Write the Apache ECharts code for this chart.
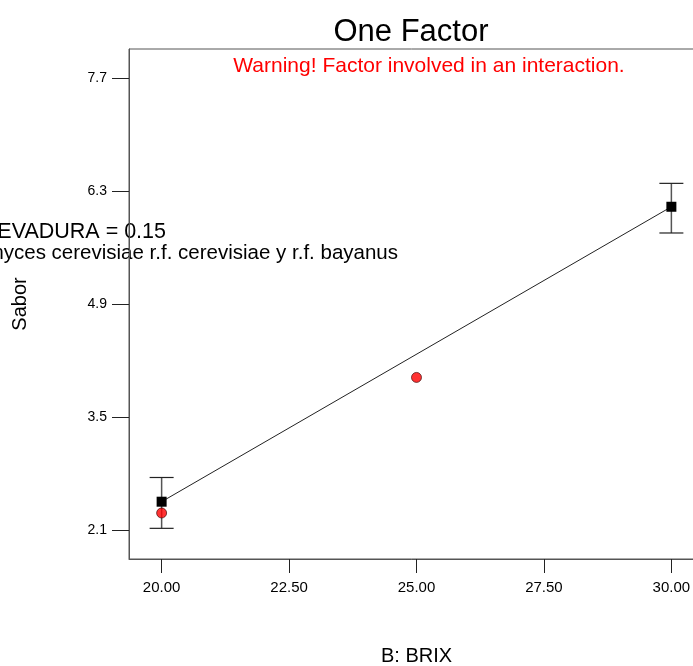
<!DOCTYPE html>
<html><head><meta charset="utf-8">
<script src="https://cdn.jsdelivr.net/npm/echarts@6/dist/echarts.min.js"></script>
<style>html,body{margin:0;padding:0;background:#fff}#c{width:693px;height:666px}</style>
</head><body><div id="c"></div>
<script>
const brix = [20, 30];
const predicted = [2.45, 6.105];
const lowerCI = [2.12, 5.78];
const upperCI = [2.75, 6.395];
const actualX = [20, 25];
const actualY = [2.31, 3.99];
const xTicks = [20, 22.5, 25, 27.5, 30];
const yTicks = [2.1, 3.5, 4.9, 6.3, 7.7];

const FONT = '"Liberation Sans", Arial, sans-serif';
const chart = echarts.init(document.getElementById('c'));
chart.setOption({
  animation: false,
  title: {text: 'One Factor', left: 406, top: 12, textAlign: 'center',
    textStyle: {fontFamily: FONT, fontSize: 31, fontWeight: 'normal', color: '#000'}},
  grid: {left: 129, right: -11, top: 49, bottom: 107, outerBoundsMode: 'none', containLabel: false,
    show: true, borderColor: '#555', borderWidth: 1, backgroundColor: '#fff'},
  xAxis: {type: 'value', min: 19.36, max: 30.64,
    name: 'B: BRIX', nameLocation: 'middle', nameGap: 87,
    nameTextStyle: {fontFamily: FONT, fontSize: 20, color: '#000'},
    axisLine: {show: true, lineStyle: {color: '#555'}},
    axisTick: {show: true, inside: false, length: 14, customValues: xTicks, lineStyle: {color: '#222'}},
    axisLabel: {customValues: xTicks, formatter: v => v.toFixed(2), margin: 21, fontFamily: FONT, fontSize: 15, color: '#000'},
    splitLine: {show: false}},
  yAxis: {type: 'value', min: 1.74, max: 8.06,
    name: 'Sabor', nameLocation: 'middle', nameGap: 99, nameRotate: 90,
    nameTextStyle: {fontFamily: FONT, fontSize: 20, color: '#000'},
    axisLine: {show: true, lineStyle: {color: '#555'}},
    axisTick: {show: true, inside: false, length: 17, customValues: yTicks, lineStyle: {color: '#222'}},
    axisLabel: {customValues: yTicks, formatter: v => v.toFixed(1), margin: 22, fontFamily: FONT, fontSize: 14, color: '#000'},
    splitLine: {show: false}},
  graphic: [
    {type: 'text', style: {text: 'Warning! Factor involved in an interaction.', x: 429, y: 56, align: 'center', font: '21px ' + FONT, fill: '#ff0000'}},
    {type: 'text', style: {text: 'LEVADURA = 0.15', x: 166, y: 221, align: 'right', font: '21.5px ' + FONT, fill: '#000'}},
    {type: 'text', style: {text: 'Saccharomyces cerevisiae r.f. cerevisiae y r.f. bayanus', x: 398, y: 243, align: 'right', font: '20.5px ' + FONT, fill: '#000'}}
  ],
  series: [
    {type: 'custom', z: 2,
      data: brix.map((b, i) => [b, lowerCI[i], upperCI[i]]),
      renderItem: function (params, api) {
        const lo = api.coord([api.value(0), api.value(1)]);
        const hi = api.coord([api.value(0), api.value(2)]);
        const w = 12;
        const st = {stroke: '#222', lineWidth: 1.2};
        return {type: 'group', children: [
          {type: 'line', shape: {x1: lo[0], y1: lo[1], x2: hi[0], y2: hi[1]}, style: {stroke: '#555', lineWidth: 1.5}},
          {type: 'line', shape: {x1: lo[0]-w, y1: lo[1], x2: lo[0]+w, y2: lo[1]}, style: st},
          {type: 'line', shape: {x1: hi[0]-w, y1: hi[1], x2: hi[0]+w, y2: hi[1]}, style: st}
        ]};
      }},
    {type: 'line', z: 3, data: brix.map((b, i) => [b, predicted[i]]),
      symbol: 'rect', symbolSize: 10, showSymbol: true,
      lineStyle: {color: '#222', width: 1}, itemStyle: {color: '#000'}},
    {type: 'scatter', z: 4, data: actualX.map((b, i) => [b, actualY[i]]),
      symbol: 'circle', symbolSize: 10,
      itemStyle: {color: '#ff0000', borderColor: '#300', borderWidth: 0.8}}
  ]
});
</script></body></html>
